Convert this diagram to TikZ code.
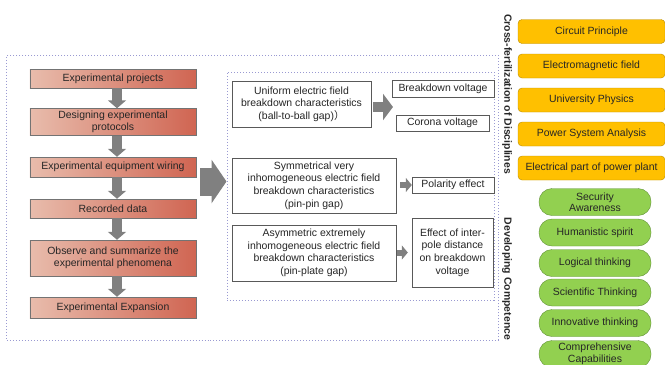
\documentclass[tikz,border=0pt]{standalone}
\usepackage{fontspec}
\setmainfont{Liberation Sans}
\newfontfamily\cjk{Noto Sans CJK SC}
\usetikzlibrary{positioning, calc}
\usetikzlibrary{arrows.meta}
\definecolor{steppink}{HTML}{E8BCAC}
\definecolor{stepred}{HTML}{D06552}
\definecolor{courseyellow}{HTML}{FFC000}
\definecolor{courseedge}{HTML}{B98C00}
\definecolor{skillgreen}{HTML}{92D050}
\definecolor{skilledge}{HTML}{5F8F35}
\definecolor{framecol}{HTML}{9A9AD2}
\definecolor{arrowgray}{HTML}{808080}
\tikzset{
  every node/.style={font=\fontsize{10.5}{12.6}\selectfont, text=black!85},
  stepbox/.style={draw=black!55, left color=steppink, right color=stepred, minimum width=166bp, align=center, inner sep=0bp, font=\fontsize{10.5}{12}\selectfont},
  testbox/.style={draw=black!65, fill=white, align=center, inner sep=1bp},
  coursebox/.style={draw=courseedge, fill=courseyellow, rounded corners=4bp, minimum width=147bp, minimum height=24bp, inner sep=1bp},
  skillbox/.style={draw=skilledge, fill=skillgreen, rounded corners=13bp, minimum width=112bp, minimum height=27bp, align=center, inner sep=1bp, font=\fontsize{10.5}{11.5}\selectfont},
  frame/.style={draw=framecol, dotted, line width=1bp},
  downarrow/.style={draw=arrowgray, line width=10bp, -{Triangle[width=18bp,length=8bp]}},
  sidearrow/.style={draw=arrowgray, line width=6bp, -{Triangle[width=14bp,length=6bp]}},
  vlabel/.style={rotate=-90, font=\bfseries\fontsize{10.5}{12}\selectfont}
}
\begin{document}
\begin{tikzpicture}[x=1bp,y=-1bp]
\useasboundingbox (0,0) rectangle (665,364);
% frames
\node (outer) [frame, minimum width=491bp, minimum height=285bp] at (252.5,197.5) {};
\node (inner) [frame, minimum width=267bp, minimum height=228bp] at (360.5,186) {};
% experiment steps
\node (proj) [stepbox, minimum height=19bp] at (113,78.5) {Experimental projects};
\node (design) [stepbox, minimum height=27bp] at (113,122) {Designing experimental\\protocols};
\node (wiring) [stepbox, minimum height=20bp] at (113,167) {Experimental equipment wiring};
\node (data) [stepbox, minimum height=19bp] at (113,208.5) {Recorded data};
\node (observe) [stepbox, minimum height=36bp] at (113,258) {Observe and summarize the\\experimental phenomena};
\node (expand) [stepbox, minimum height=21bp] at (113,307.5) {Experimental Expansion};
\draw[downarrow] ([xshift=4bp]proj.south) -- ([xshift=4bp]design.north);
\draw[downarrow] ([xshift=4bp]design.south) -- ([xshift=4bp]wiring.north);
\draw[downarrow] ([xshift=4bp]wiring.south) -- ([xshift=4bp]data.north);
\draw[downarrow] ([xshift=4bp]data.south) -- ([xshift=4bp]observe.north);
\draw[downarrow] ([xshift=4bp]observe.south) -- ([xshift=4bp]expand.north);
\coordinate (bigtail) at (200,181.5);
\draw[draw=arrowgray, line width=28bp, -{Triangle[width=43bp,length=15bp]}] (bigtail) -- (bigtail -| inner.west);
% breakdown tests
\node (uniform) [testbox, minimum width=139bp, minimum height=46bp] at (301.5,104) {Uniform electric field\\breakdown characteristics\\(ball-to-ball gap){\cjk ）}};
\node (bdv) [testbox, minimum width=102bp, minimum height=17bp] at (443,88.5) {Breakdown voltage};
\node (corona) [testbox, minimum width=93bp, minimum height=16bp] at (442.5,123) {Corona voltage};
\node (sym) [testbox, minimum width=164bp, minimum height=55bp] at (314,185.5) {Symmetrical very\\inhomogeneous electric field\\breakdown characteristics\\(pin-pin gap)};
\node (polar) [testbox, minimum width=82bp, minimum height=16bp] at (453,185) {Polarity effect};
\node (asym) [testbox, minimum width=164bp, minimum height=56bp] at (314,253) {Asymmetric extremely\\inhomogeneous electric field\\breakdown characteristics\\(pin-plate gap)};
\node (effect) [testbox, minimum width=81bp, minimum height=69bp] at (452.5,252.5) {Effect of inter-\\pole distance\\on breakdown\\voltage};
\coordinate (uniformtip) at (393,107);
\draw[draw=arrowgray, line width=10bp, -{Triangle[width=26bp,length=10bp]}] (uniformtip -| uniform.east) ++(2,0) -- (uniformtip);
\draw[sidearrow, shorten <=4bp] (sym.east |- polar.west) -- (polar.west);
\draw[sidearrow, shorten <=1bp, shorten >=4bp] (asym.east |- effect.west) -- (effect.west);
% side labels
\node (cross) [vlabel] at (507,94) {Cross-fertilization of Disciplines};
\node (compet) [vlabel] at (507,279) {Developing Competence};
% courses
\node (circ) [coursebox] at (591.5,31.5) {Circuit Principle};
\node (emf) [coursebox] at (591.5,66) {Electromagnetic field};
\node (phys) [coursebox] at (591.5,100) {University Physics};
\node (psa) [coursebox] at (591.5,134) {Power System Analysis};
\node (plant) [coursebox] at (591.5,168) {Electrical part of power plant};
% competences
\node (safe) [skillbox] at (595,202) {Security\\Awareness};
\node (human) [skillbox] at (595,232.5) {Humanistic spirit};
\node (logic) [skillbox] at (595,263) {Logical thinking};
\node (sci) [skillbox] at (595,292.5) {Scientific Thinking};
\node (innov) [skillbox] at (595,323) {Innovative thinking};
\node (compr) [skillbox] at (595,354) {Comprehensive\\Capabilities};
\end{tikzpicture}
\end{document}
